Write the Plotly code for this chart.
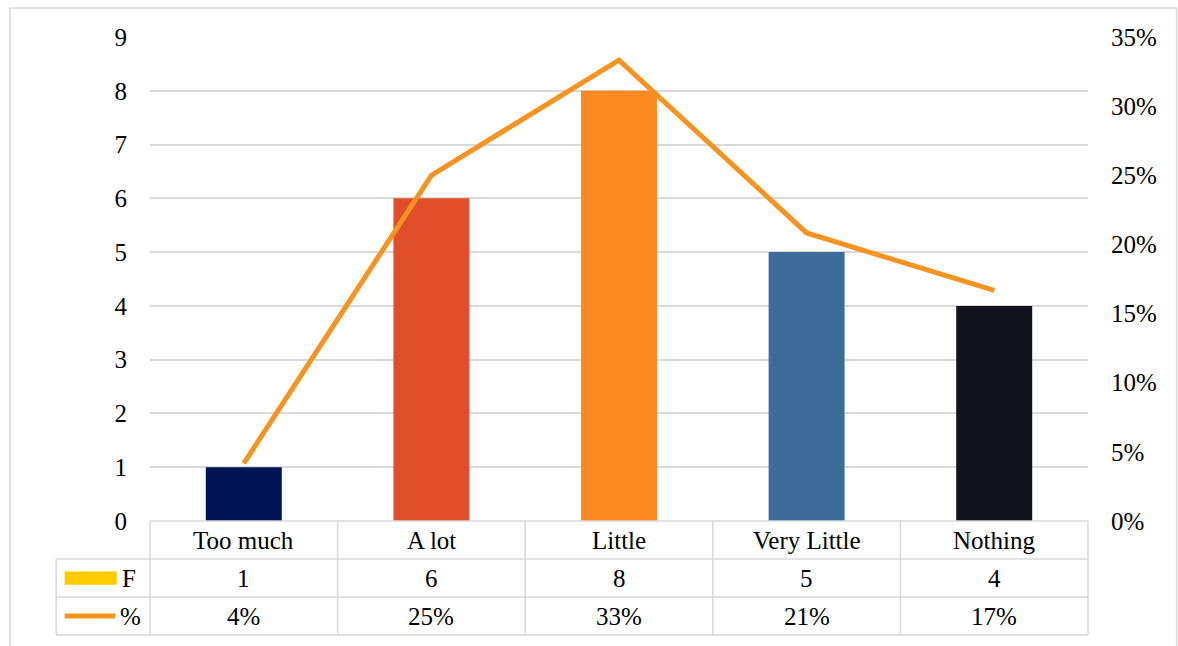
import plotly.graph_objects as go

categories = ["Too much", "A lot", "Little", "Very Little", "Nothing"]
counts = [1, 6, 8, 5, 4]
shares = [0.0417, 0.25, 0.3333, 0.2083, 0.1667]
bar_colors = ["#001352", "#E14E2A", "#FD8922", "#3E6B9B", "#13131D"]
line_color = "#F7931E"
legend_bar_color = "#FFCC00"
grid_color = "#D9D9D9"
font_family = "Liberation Serif, Times New Roman, serif"
FS = 25

fig = go.Figure()
fig.add_trace(go.Bar(
    x=categories, y=counts, name="F",
    marker=dict(color=bar_colors, line=dict(width=0)),
    width=0.405, yaxis="y",
))
fig.add_trace(go.Scatter(
    x=categories, y=shares, name="%", mode="lines",
    line=dict(color=line_color, width=5),
    yaxis="y2",
))

# Data table under the plot: rows in paper units below the x axis
n = len(categories)
row_h = 38 / 484
rows_y = [0, -row_h, -2 * row_h, -3 * row_h]
col_w = 1 / n                     # one category column in paper units
key_left = -col_w / 2             # legend-key column is half a category wide
shapes = []
line_style = dict(color=grid_color, width=1.5)
# vertical separators of the category columns
for i in range(n + 1):
    shapes.append(dict(type="line", xref="paper", yref="paper",
                       x0=i * col_w, x1=i * col_w, y0=rows_y[0], y1=rows_y[3],
                       line=line_style, layer="above"))
# top edge of the header row (value axis baseline)
shapes.append(dict(type="line", xref="paper", yref="paper",
                   x0=0, x1=1, y0=0, y1=0, line=line_style, layer="above"))
# legend-key column edge
shapes.append(dict(type="line", xref="paper", yref="paper",
                   x0=key_left, x1=key_left, y0=rows_y[1], y1=rows_y[3], line=line_style))
for y in rows_y[1:]:
    shapes.append(dict(type="line", xref="paper", yref="paper",
                       x0=key_left, x1=1, y0=y, y1=y, line=line_style))
# legend keys
shapes.append(dict(type="rect", xref="paper", yref="paper",
                   x0=-0.091, x1=-0.0355,
                   y0=rows_y[1] - 0.026, y1=rows_y[1] - 0.053,
                   fillcolor=legend_bar_color, line=dict(width=0)))
shapes.append(dict(type="line", xref="paper", yref="paper",
                   x0=-0.091, x1=-0.037,
                   y0=(rows_y[2] + rows_y[3]) / 2, y1=(rows_y[2] + rows_y[3]) / 2,
                   line=dict(color=line_color, width=5)))
# chart frame
shapes.append(dict(type="rect", xref="paper", yref="paper",
                   x0=-0.1492, x1=1.0944, y0=-0.28, y1=1.06,
                   line=dict(color=grid_color, width=1.5), fillcolor="rgba(0,0,0,0)",
                   layer="below"))

annotations = []
txt = dict(family=font_family, size=FS, color="#000000")
for i, cat in enumerate(categories):
    annotations.append(dict(x=cat, xref="x", y=(rows_y[0] + rows_y[1]) / 2, yref="paper",
                            text=cat, showarrow=False, font=txt, yanchor="middle"))
    annotations.append(dict(x=cat, xref="x", y=(rows_y[1] + rows_y[2]) / 2, yref="paper",
                            text=str(counts[i]), showarrow=False, font=txt, yanchor="middle"))
    annotations.append(dict(x=cat, xref="x", y=(rows_y[2] + rows_y[3]) / 2, yref="paper",
                            text=f"{shares[i]:.0%}", showarrow=False, font=txt, yanchor="middle"))
annotations.append(dict(x=-0.032, xref="paper", y=(rows_y[1] + rows_y[2]) / 2, yref="paper",
                        text="F", showarrow=False, font=txt, xanchor="left", yanchor="middle"))
annotations.append(dict(x=-0.034, xref="paper", y=(rows_y[2] + rows_y[3]) / 2, yref="paper",
                        text="%", showarrow=False, font=txt, xanchor="left", yanchor="middle"))

fig.update_layout(
    width=1178, height=646,
    margin=dict(l=150, r=90, t=37, b=125),
    paper_bgcolor="white", plot_bgcolor="white",
    showlegend=False,
    font=txt,
    xaxis=dict(type="category", range=[-0.5, n - 0.5], showticklabels=False,
               showgrid=False, zeroline=False, showline=False, ticks=""),
    yaxis=dict(range=[0, 9], dtick=1, showgrid=True, gridcolor=grid_color, gridwidth=1.5,
               zeroline=False, showline=False, ticks="", ticklabelstandoff=22,
               tickfont=txt),
    yaxis2=dict(range=[0, 0.35], dtick=0.05, tickformat=".0%", overlaying="y", side="right",
                showgrid=False, zeroline=False, showline=False, ticks="",
                ticklabelstandoff=22, tickfont=txt),
    shapes=shapes,
    annotations=annotations,
)

fig.write_html("out.html")
